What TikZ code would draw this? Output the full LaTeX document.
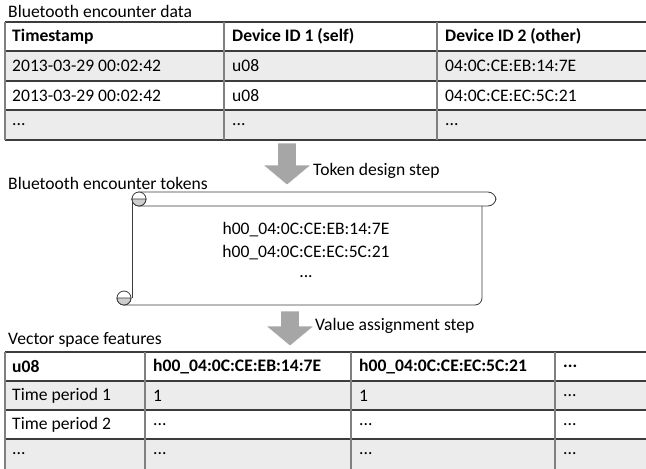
\documentclass[tikz,border=0pt]{standalone}
\usepackage{fontspec}
\setmainfont{Carlito}
\usetikzlibrary{positioning}
\definecolor{rowgrey}{RGB}{236,236,236}
\definecolor{linedark}{RGB}{60,60,60}
\definecolor{linelight}{RGB}{128,128,128}
\definecolor{arrowgrey}{RGB}{166,166,166}
\definecolor{curlgrey}{RGB}{205,205,205}
\tikzset{
    txt/.style={anchor=west, inner sep=0pt, font=\fontsize{15}{18}\selectfont},
    headtxt/.style={txt, font=\fontsize{15}{18}\selectfont\bfseries},
    rowline/.style={draw=linedark, line width=0.9pt},
    colline/.style={draw=linelight, line width=0.9pt},
    scrollline/.style={draw=linedark, line width=0.7pt},
    steparrow/.style={fill=arrowgrey, draw=white, line width=0.5pt}
}

\begin{document}
\begin{tikzpicture}[x=0.03cm, y=-0.03cm]
    \useasboundingbox (0,0) rectangle (646,468);

    % encounter data table
    \node[txt] (datatitle) at (8,11) {Bluetooth encounter data};
    \fill[rowgrey] (5,51) rectangle (660,81);
    \fill[rowgrey] (5,110) rectangle (660,140);
    \foreach \y in {22,51,81,110,140} \draw[rowline] (5,\y) -- (660,\y);
    \foreach \x in {5,224,437} \draw[colline] (\x,22) -- (\x,140);

    \node[headtxt] (timestamp) at (12,36.5) {Timestamp};
    \node[headtxt] (selfid) at (232,36.5) {Device ID 1 (self)};
    \node[headtxt] (otherid) at (445,36.5) {Device ID 2 (other)};
    \node[txt] (tsa) at (12,66) {2013-03-29 00:02:42};
    \node[txt] (selfa) at (232,66) {u08};
    \node[txt] (othera) at (445,66) {04:0C:CE:EB:14:7E};
    \node[txt] (tsb) at (12,95.5) {2013-03-29 00:02:42};
    \node[txt] (selfb) at (232,95.5) {u08};
    \node[txt] (otherb) at (445,95.5) {04:0C:CE:EC:5C:21};
    \node[txt] (tsc) at (12,125) {...};
    \node[txt] (selfc) at (232,125) {...};
    \node[txt] (otherc) at (445,125) {...};

    % token design step
    \coordinate (tokenarrow) at (287,143);
    \fill[steparrow, shift={(tokenarrow)}] (-9.5,0) -- (9.5,0) -- (9.5,22) -- (24,22) -- (0,42) -- (-24,22) -- (-9.5,22) -- cycle;
    \node[txt] (tokenstep) at (313,171) {Token design step};

    % token scroll
    \node[txt] (tokentitle) at (8,183) {Bluetooth encounter tokens};
    \draw[scrollline, fill=white, rounded corners=7] (132,192) rectangle (496,206);
    \draw[scrollline, rounded corners=6] (482,206) -- (482,305) -- (124,305);
    \draw[scrollline] (132,199) -- (132,298);
    \draw[scrollline, fill=white] (139,199) circle (7);
    \filldraw[scrollline, fill=curlgrey] (132,199) arc[start angle=180, end angle=0, radius=7] -- cycle;
    \draw[scrollline, fill=white] (124,298) circle (7);
    \filldraw[scrollline, fill=curlgrey] (117,298) arc[start angle=180, end angle=0, radius=7] -- cycle;
    \node[txt, anchor=center] (tokena) at (306,230) {h00\_04:0C:CE:EB:14:7E};
    \node[txt, anchor=center] (tokenb) at (306,253) {h00\_04:0C:CE:EC:5C:21};
    \node[txt, anchor=center] (tokenc) at (306,277) {...};

    % value assignment step
    \coordinate (valuearrow) at (290,311);
    \fill[steparrow, shift={(valuearrow)}] (-9.5,0) -- (9.5,0) -- (9.5,15) -- (24,15) -- (0,35) -- (-24,15) -- (-9.5,15) -- cycle;
    \node[txt] (valuestep) at (315,326) {Value assignment step};

    % vector space table
    \node[txt] (vectortitle) at (8,340) {Vector space features};
    \fill[rowgrey] (5,381) rectangle (660,410);
    \fill[rowgrey] (5,439) rectangle (660,470);
    \foreach \y in {352,381,410,439} \draw[rowline] (5,\y) -- (660,\y);
    \foreach \x in {5,145,351,555} \draw[colline] (\x,352) -- (\x,470);

    \node[headtxt] (user) at (12,366.5) {u08};
    \node[headtxt] (feata) at (153,366.5) {h00\_04:0C:CE:EB:14:7E};
    \node[headtxt] (featb) at (359,366.5) {h00\_04:0C:CE:EC:5C:21};
    \node[headtxt] (featc) at (563,366.5) {...};
    \node[txt] (perioda) at (12,395.5) {Time period 1};
    \node[txt] (vaa) at (153,395.5) {1};
    \node[txt] (vab) at (359,395.5) {1};
    \node[txt] (vac) at (563,395.5) {...};
    \node[txt] (periodb) at (12,424.5) {Time period 2};
    \node[txt] (vba) at (153,424.5) {...};
    \node[txt] (vbb) at (359,424.5) {...};
    \node[txt] (vbc) at (563,424.5) {...};
    \node[txt] (periodc) at (12,453.5) {...};
    \node[txt] (vca) at (153,453.5) {...};
    \node[txt] (vcb) at (359,453.5) {...};
    \node[txt] (vcc) at (563,453.5) {...};
\end{tikzpicture}
\end{document}
